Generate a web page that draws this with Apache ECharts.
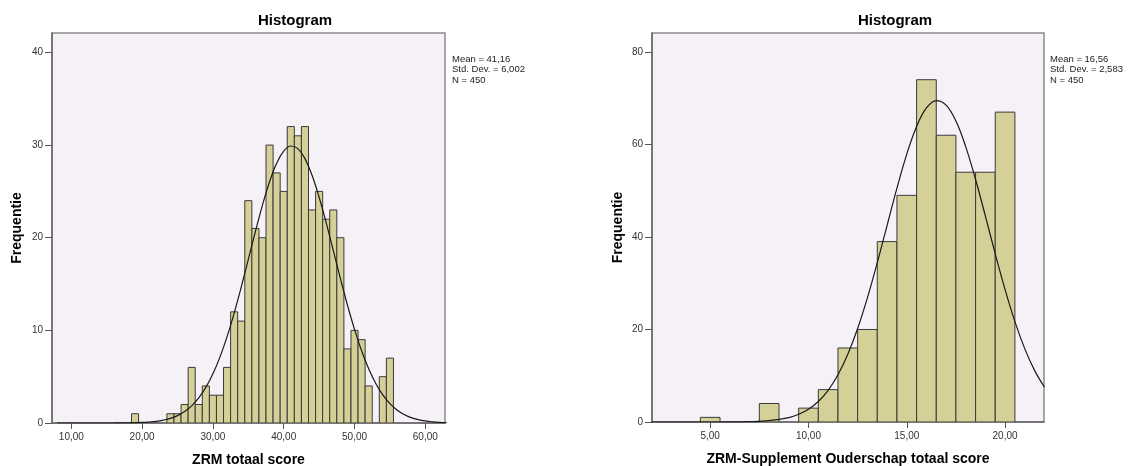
<!DOCTYPE html>
<html lang="nl">
<head>
<meta charset="UTF-8">
<title>Histogram</title>
<script src="https://cdn.jsdelivr.net/npm/echarts@6/dist/echarts.min.js"></script>
</head>
<body style="margin:0;background:#fff;">
<div id="main" style="width:1132px;height:466px;"></div>
<script>
// linker histogram: ZRM totaal score (bins van 1 punt)
var leftBins = [19, 20, 21, 22, 23, 24, 25, 26, 27, 28, 29, 30, 31, 32, 33, 34, 35, 36, 37,
    38, 39, 40, 41, 42, 43, 44, 45, 46, 47, 48, 49, 50, 51, 52, 53, 54, 55];
var leftCounts = [1, 0, 0, 0, 0, 1, 1, 2, 6, 2, 4, 3, 3, 6, 12, 11, 24, 21, 20,
    30, 27, 25, 32, 31, 32, 23, 25, 22, 23, 20, 8, 10, 9, 4, 0, 5, 7];
// normaalcurve
var leftCurveX = [8, 12, 16, 18, 20, 21, 22, 23, 24, 25, 26, 27, 28, 29, 30, 31, 32, 33, 34, 35,
    36, 37, 38, 39, 40, 41, 42, 43, 44, 45, 46, 47, 48, 49, 50, 51, 52, 53, 54, 55,
    56, 57, 58, 59, 60, 61, 62, 63];
var leftCurveY = [0, 0, 0.005, 0.02, 0.06, 0.11, 0.18, 0.31, 0.5, 0.8, 1.23, 1.85, 2.7, 3.84, 5.31, 7.14, 9.33, 11.87, 14.68, 17.66,
    20.67, 23.52, 26.04, 28.03, 29.36, 29.9, 29.62, 28.54, 26.74, 24.37, 21.61, 18.63, 15.62, 12.74, 10.11, 7.8, 5.85, 4.27, 3.04, 2.1,
    1.41, 0.92, 0.58, 0.36, 0.22, 0.13, 0.07, 0.04];
var leftTicks = [10, 20, 30, 40, 50, 60];
var leftYTicks = [0, 10, 20, 30, 40];
var leftStats = ['Mean = 41,16', 'Std. Dev. = 6,002', 'N = 450'];

// rechter histogram: ZRM-Supplement Ouderschap totaal score
var rightBins = [5, 6, 7, 8, 9, 10, 11, 12, 13, 14, 15, 16, 17, 18, 19, 20];
var rightCounts = [1, 0, 0, 4, 0, 3, 7, 16, 20, 39, 49, 74, 62, 54, 54, 67];
var rightCurveX = [2, 4, 6, 7, 8, 9, 9.5, 10, 10.5, 11, 11.5, 12, 12.5, 13, 13.5, 14, 14.5, 15, 15.5,
    16, 16.5, 17, 17.5, 18, 18.5, 19, 19.5, 20, 20.5, 21, 21.5, 22];
var rightCurveY = [0, 0, 0.02, 0.07, 0.29, 0.96, 1.66, 2.76, 4.43, 6.85, 10.2, 14.63, 20.2, 26.88, 34.45, 42.53, 50.57, 57.92, 63.89,
    67.89, 69.48, 68.5, 65.05, 59.49, 52.42, 44.49, 36.36, 28.63, 21.71, 15.86, 11.16, 7.56];
var rightTicks = [5, 10, 15, 20];
var rightYTicks = [0, 20, 40, 60, 80];
var rightStats = ['Mean = 16,56', 'Std. Dev. = 2,583', 'N = 450'];

var chartTitle = 'Histogram';
var leftXName = 'ZRM totaal score';
var rightXName = 'ZRM-Supplement Ouderschap totaal score';
var yName = 'Frequentie';

var myChart = echarts.init(document.getElementById('main'));

function pairs(a, b) {
    return a.map(function (v, i) { return [v, b[i]]; });
}

// staaf van bin-rand tot bin-rand
function renderBar(params, api) {
    var x = api.value(0), n = api.value(1);
    if (!n) return;
    var p0 = api.coord([x - 0.5, n]);
    var p1 = api.coord([x + 0.5, 0]);
    return {
        type: 'rect',
        shape: { x: p0[0], y: p0[1], width: p1[0] - p0[0], height: p1[1] - p0[1] },
        style: { fill: '#d5cf98', stroke: '#3a3a3a', lineWidth: 1 }
    };
}

function fmt(v) { return v.toFixed(2).replace('.', ','); }

var font = 'Liberation Sans, Arial, sans-serif';

function xAxisOpt(idx, min, max, ticks, name) {
    return {
        type: 'value', gridIndex: idx, min: min, max: max,
        name: name, nameLocation: 'middle', nameGap: 30,
        nameTextStyle: { fontFamily: font, fontWeight: 'bold', fontSize: 14, color: '#000' },
        axisLine: { lineStyle: { color: '#666', width: 1.5 } },
        axisTick: { length: 6, customValues: ticks, lineStyle: { color: '#555' } },
        axisLabel: { customValues: ticks, formatter: fmt, margin: 9, fontFamily: font, fontSize: 10, color: '#333' },
        splitLine: { show: false }
    };
}

function yAxisOpt(idx, max, ticks, gap) {
    return {
        type: 'value', gridIndex: idx, min: 0, max: max,
        name: yName, nameLocation: 'middle', nameGap: gap, nameRotate: 90,
        nameTextStyle: { fontFamily: font, fontWeight: 'bold', fontSize: 14, color: '#000' },
        axisLine: { show: true, lineStyle: { color: '#666', width: 1.5 } },
        axisTick: { show: true, length: 7, customValues: ticks, lineStyle: { color: '#555' } },
        axisLabel: { customValues: ticks, margin: 9, fontFamily: font, fontSize: 10, color: '#333' },
        splitLine: { show: false }
    };
}

function statsText(x, lines) {
    return {
        type: 'text', left: x, top: 54,
        style: { text: lines.join('\n'), font: '9.5px ' + font, fill: '#222', lineHeight: 10.5 }
    };
}

function titleText(cx, text) {
    return {
        type: 'text', x: cx, y: 21,
        style: { text: text, font: 'bold 15px ' + font, fill: '#000', align: 'center', verticalAlign: 'middle' }
    };
}

var option = {
    backgroundColor: '#fff',
    animation: false,
    grid: [
        { left: 52, top: 33, width: 393, height: 390, outerBoundsMode: 'none', show: true,
          backgroundColor: '#f5f1f6', borderColor: '#8c8c8c', borderWidth: 1.5 },
        { left: 652, top: 33, width: 392, height: 389, outerBoundsMode: 'none', show: true,
          backgroundColor: '#f5f1f6', borderColor: '#8c8c8c', borderWidth: 1.5 }
    ],
    xAxis: [
        xAxisOpt(0, 7.27, 62.78, leftTicks, leftXName),
        xAxisOpt(1, 2.04, 21.98, rightTicks, rightXName)
    ],
    yAxis: [
        yAxisOpt(0, 42.1, leftYTicks, 28),
        yAxisOpt(1, 84.1, rightYTicks, 27)
    ],
    series: [
        {
            type: 'custom', xAxisIndex: 0, yAxisIndex: 0, renderItem: renderBar,
            encode: { x: 0, y: 1 }, data: pairs(leftBins, leftCounts), clip: true
        },
        {
            type: 'line', xAxisIndex: 0, yAxisIndex: 0, data: pairs(leftCurveX, leftCurveY),
            smooth: 0.4, showSymbol: false, clip: true, lineStyle: { color: '#1a1a1a', width: 1.2 }
        },
        {
            type: 'custom', xAxisIndex: 1, yAxisIndex: 1, renderItem: renderBar,
            encode: { x: 0, y: 1 }, data: pairs(rightBins, rightCounts), clip: true
        },
        {
            type: 'line', xAxisIndex: 1, yAxisIndex: 1, data: pairs(rightCurveX, rightCurveY),
            smooth: 0.4, showSymbol: false, clip: true, lineStyle: { color: '#1a1a1a', width: 1.2 }
        }
    ],
    graphic: [
        titleText(295, chartTitle),
        titleText(895, chartTitle),
        statsText(452, leftStats),
        statsText(1050, rightStats)
    ]
};

myChart.setOption(option);
</script>
</body>
</html>
